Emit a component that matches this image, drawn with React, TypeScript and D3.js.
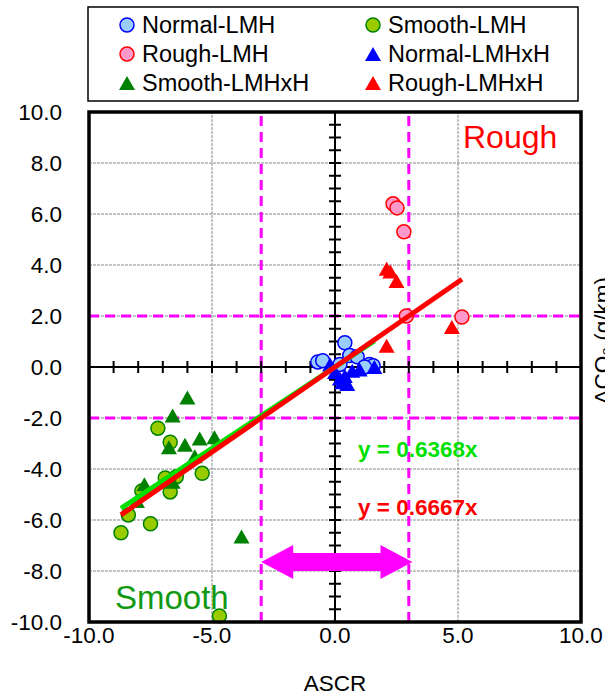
import * as d3 from 'd3';
import React, { useEffect, useRef } from 'react';

// values: [ASCR, dCO2]
const normalLMH = [[0.4, 0.95], [-0.7, 0.2], [-0.5, 0.25], [0.6, 0.45], [0.9, 0.4], [1.4, 0.1], [1.55, 0.05], [0.2, 0.1], [1.2, 0.0]];
const smoothLMH = [[-7.2, -2.4], [-6.7, -2.95], [-6.9, -4.35], [-6.45, -4.3], [-6.7, -4.9], [-5.4, -4.17], [-7.85, -4.86], [-8.4, -5.8], [-8.7, -6.5], [-7.5, -6.15], [-4.7, -9.76]];
const roughLMH = [[2.36, 6.4], [2.52, 6.24], [2.8, 5.3], [2.9, 2.0], [5.16, 1.96]];
const normalLMHxH = [[0.0, -0.2], [0.3, -0.6], [0.5, -0.67], [0.7, -0.15], [-0.2, 0.1], [1.6, 0.0], [0.4, -0.35], [1.0, -0.1], [0.2, -0.45]];
const smoothLMHxH = [[-6.0, -1.2], [-6.6, -1.9], [-6.75, -3.15], [-6.1, -3.05], [-5.5, -2.8], [-4.9, -2.75], [-5.7, -3.5], [-6.6, -4.5], [-7.75, -4.6], [-8.05, -5.25], [-3.8, -6.65]];
const roughLMHxH = [[2.1, 3.85], [2.25, 3.75], [2.5, 3.37], [4.75, 1.57], [2.1, 0.83]];

const xTicks = [-10, -5, 0, 5, 10];
const yTicks = [-10, -8, -6, -4, -2, 0, 2, 4, 6, 8, 10];
const thresholds = [-3, 3];

// fitted lines through origin
const fits = [
  { slope: 0.6368, from: -8.7, to: 1.6, color: '#00e000', label: 'y = 0.6368x' },
  { slope: 0.6667, from: -8.7, to: 5.16, color: '#ff0000', label: 'y = 0.6667x' },
];

const series = [
  { name: 'Normal-LMH', data: normalLMH, shape: 'circle', fill: '#99ccff', stroke: '#0000ff' },
  { name: 'Smooth-LMH', data: smoothLMH, shape: 'circle', fill: '#99cc00', stroke: '#008000' },
  { name: 'Rough-LMH', data: roughLMH, shape: 'circle', fill: '#ff99cc', stroke: '#ff0000' },
  { name: 'Normal-LMHxH', data: normalLMHxH, shape: 'triangle', fill: '#0000ff', stroke: '#0000ff' },
  { name: 'Smooth-LMHxH', data: smoothLMHxH, shape: 'triangle', fill: '#008000', stroke: '#008000' },
  { name: 'Rough-LMHxH', data: roughLMHxH, shape: 'triangle', fill: '#ff0000', stroke: '#ff0000' },
];

const FONT = '"Liberation Sans", Arial, sans-serif';
const TRI = 'M0,-7L8,7L-8,7Z';

function drawMarker(g, s, x, y) {
  if (s.shape === 'circle') {
    g.append('circle').attr('cx', x).attr('cy', y).attr('r', 7)
      .attr('fill', s.fill).attr('stroke', s.stroke).attr('stroke-width', 1.5);
  } else {
    g.append('path').attr('d', TRI).attr('transform', `translate(${x},${y})`)
      .attr('fill', s.fill);
  }
}

export default function App() {
  const ref = useRef(null);

  useEffect(() => {
    const svg = d3.select(ref.current);
    svg.selectAll('*').remove();

    const x = d3.scaleLinear().domain([-10, 10]).range([89, 581]);
    const y = d3.scaleLinear().domain([-10, 10]).range([622, 112]);

    // grid
    const grid = svg.append('g').attr('stroke', '#888').attr('stroke-width', 1).attr('stroke-dasharray', '3,1');
    [-5, 5].forEach(v => grid.append('line').attr('x1', x(v)).attr('x2', x(v)).attr('y1', y(-10)).attr('y2', y(10)));
    yTicks.filter(v => v !== 0 && Math.abs(v) !== 10).forEach(v =>
      grid.append('line').attr('x1', x(-10)).attr('x2', x(10)).attr('y1', y(v)).attr('y2', y(v)));

    // magenta threshold lines
    const dash = svg.append('g').attr('stroke', '#ff00ff').attr('stroke-width', 3).attr('stroke-dasharray', '10,6');
    thresholds.forEach(v => {
      dash.append('line').attr('x1', x(v)).attr('x2', x(v)).attr('y1', y(-10)).attr('y2', y(10) - 1);
    });
    [-2, 2].forEach(v => {
      dash.append('line').attr('x1', x(-10)).attr('x2', x(10)).attr('y1', y(v)).attr('y2', y(v));
    });

    // centre axes with ticks
    const ax = svg.append('g').attr('stroke', '#000').attr('stroke-width', 2);
    ax.append('line').attr('x1', x(-10)).attr('x2', x(10)).attr('y1', y(0)).attr('y2', y(0));
    ax.append('line').attr('x1', x(0)).attr('x2', x(0)).attr('y1', y(-10)).attr('y2', y(10));
    d3.range(-10, 10.01, 1).forEach(v =>
      ax.append('line').attr('x1', x(v)).attr('x2', x(v)).attr('y1', y(0) - 6).attr('y2', y(0) + 6));
    d3.range(-10, 10.01, 0.5).forEach(v =>
      ax.append('line').attr('x1', x(0) - 6).attr('x2', x(0) + 6).attr('y1', y(v)).attr('y2', y(v)));

    // double arrow
    const ay = y(-7.65), xl = x(-3), xr = x(3.15), hl = 32, hh = 17, sh = 9;
    svg.append('path')
      .attr('d', `M${xl},${ay}L${xl + hl},${ay - hh}L${xl + hl},${ay - sh}L${xr - hl},${ay - sh}L${xr - hl},${ay - hh}L${xr},${ay}L${xr - hl},${ay + hh}L${xr - hl},${ay + sh}L${xl + hl},${ay + sh}L${xl + hl},${ay + hh}Z`)
      .attr('fill', '#ff00ff');

    // points
    const pts = svg.append('g');
    series.forEach(s => s.data.forEach(d => drawMarker(pts, s, x(d[0]), y(d[1]))));

    // fitted lines
    fits.forEach(f => {
      svg.append('line')
        .attr('x1', x(f.from)).attr('y1', y(f.slope * f.from))
        .attr('x2', x(f.to)).attr('y2', y(f.slope * f.to))
        .attr('stroke', f.color).attr('stroke-width', 5);
    });

    // frame
    svg.append('rect').attr('x', x(-10)).attr('y', y(10))
      .attr('width', x(10) - x(-10)).attr('height', y(-10) - y(10))
      .attr('fill', 'none').attr('stroke', '#000').attr('stroke-width', 3.5);

    // tick labels
    svg.append('g').selectAll('text').data(yTicks).enter().append('text')
      .attr('x', 62).attr('y', d => y(d)).attr('dy', '0.36em')
      .attr('text-anchor', 'end').attr('font-family', FONT).attr('font-size', 22.5)
      .text(d => d.toFixed(1));
    svg.append('g').selectAll('text').data(xTicks).enter().append('text')
      .attr('x', d => x(d)).attr('y', 643)
      .attr('text-anchor', 'middle').attr('font-family', FONT).attr('font-size', 22.5)
      .text(d => d.toFixed(1));

    svg.append('text').attr('x', x(0)).attr('y', 691).attr('text-anchor', 'middle')
      .attr('font-family', FONT).attr('font-size', 22.5).text('ASCR');
    svg.append('text').attr('transform', 'translate(610,277) rotate(-90)').attr('text-anchor', 'end')
      .attr('font-family', FONT).attr('font-size', 22.5).text('ΔCO₂ (g/km)');

    // region labels
    svg.append('text').attr('x', 463).attr('y', 148).attr('fill', '#ff0000')
      .attr('font-family', FONT).attr('font-size', 32).text('Rough');
    svg.append('text').attr('x', 115).attr('y', 609).attr('fill', '#119911')
      .attr('font-family', FONT).attr('font-size', 33).text('Smooth');

    // equations
    fits.forEach((f, i) => {
      svg.append('text').attr('x', 358).attr('y', i === 0 ? 457 : 515).attr('fill', f.color)
        .attr('font-family', FONT).attr('font-size', 22.5).attr('font-weight', 'bold').text(f.label);
    });

    // legend
    const lg = svg.append('g');
    lg.append('rect').attr('x', 88).attr('y', 7).attr('width', 490).attr('height', 94)
      .attr('fill', '#fff').attr('stroke', '#000').attr('stroke-width', 1.5);
    series.forEach((s, i) => {
      const col = i % 2, row = Math.floor(i / 2);
      const mx = col === 0 ? 127 : 373, my = 25 + row * 29;
      drawMarker(lg, s, mx, my);
      lg.append('text').attr('x', mx + 15).attr('y', my).attr('dy', '0.36em')
        .attr('font-family', FONT).attr('font-size', 23.5).text(s.name);
    });
  }, []);

  return (
    <svg ref={ref} width={605} height={699} style={{ position: 'absolute', left: 0, top: 0, background: '#fff' }} />
  );
}
